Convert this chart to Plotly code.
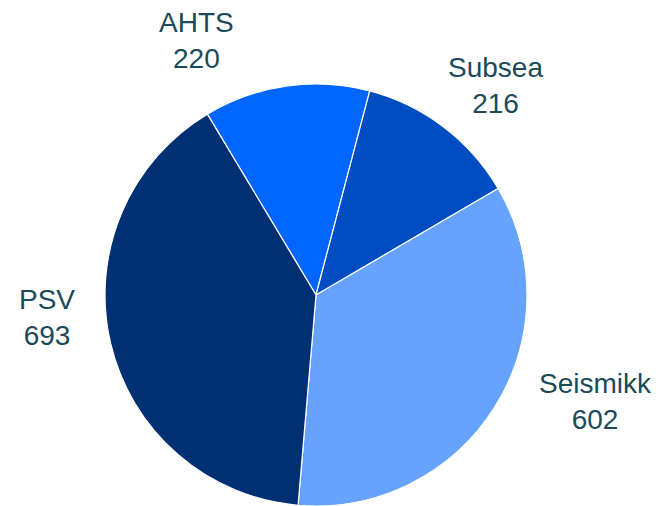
import plotly.graph_objects as go

# Fleet split by segment
segments = ["AHTS", "Subsea", "Seismikk", "PSV"]
counts = [220, 216, 602, 693]
colors = ["#0066FF", "#004CC2", "#66A3FF", "#003074"]

# figure sits 8px in from the page corner (body margin), so positions are shifted
OFF = 8
W, H = 660 - OFF, 506 - OFF
label_px = [(196, 40), (495, 85), (595, 401), (47, 317)]

cx, cy, r = 316 - OFF, 297 - OFF, 213
fig = go.Figure(go.Pie(
    labels=segments,
    values=counts,
    sort=False,
    direction="clockwise",
    rotation=-31,
    marker=dict(colors=colors, line=dict(color="white", width=1.2)),
    textinfo="none",
    domain=dict(x=[(cx - r) / W, (cx + r) / W], y=[max(0, 1 - (cy + r) / H), 1 - (cy - r) / H]),
))

for name, n, (px, py) in zip(segments, counts, label_px):
    fig.add_annotation(
        x=(px - OFF) / W, y=1 - (py - OFF) / H, xref="paper", yref="paper",
        text=f"{name}<br>{n}", showarrow=False,
        xanchor="center", yanchor="middle",
        font=dict(family="Liberation Sans, Arial", size=28, color="#1B4A59"),
    )

fig.update_layout(
    width=W, height=H,
    margin=dict(l=0, r=0, t=0, b=0),
    showlegend=False,
    paper_bgcolor="white",
)

fig.write_html("out.html")
